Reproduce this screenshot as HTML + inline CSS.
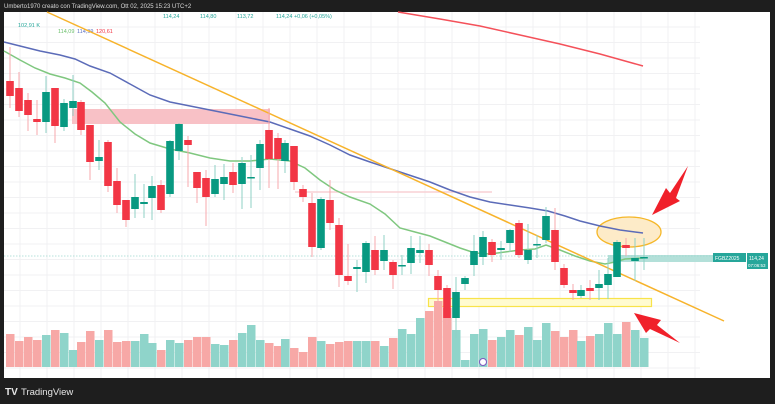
<!DOCTYPE html>
<html><head><meta charset="utf-8"><style>
html,body{margin:0;padding:0;background:#1e1e1e;width:775px;height:404px;overflow:hidden;font-family:"Liberation Sans",sans-serif}
svg{position:absolute;left:0;top:0}
</style></head><body>
<svg id="s" width="775" height="404" viewBox="0 0 775 404" xmlns="http://www.w3.org/2000/svg">
<rect x="0" y="0" width="775" height="404" fill="#1e1e1e"/>
<rect x="4" y="12" width="766" height="366" fill="#ffffff"/>
<g id="grid" stroke="#f1f1f3" stroke-width="1"></g>
<text x="4" y="8" font-size="6" fill="#d8d8d8">Umberto1970 creato con TradingView.com, Ott 02, 2025 15:23 UTC+2</text>
<text x="163" y="18" font-size="5.5" fill="#26a69a">114,24</text>
<text x="200" y="18" font-size="5.5" fill="#26a69a">114,80</text>
<text x="237" y="18" font-size="5.5" fill="#26a69a">113,72</text>
<text x="276" y="18" font-size="5.5" fill="#26a69a">114,24 +0,06 (+0,05%)</text>
<text x="18" y="27" font-size="5.5" fill="#26a69a">102,91 K</text>
<text x="58" y="33" font-size="5.5" fill="#6abf6a">114,09</text>
<text x="77" y="33" font-size="5.5" fill="#5b6fc2">114,99</text>
<text x="96" y="33" font-size="5.5" fill="#f23645">120,61</text>
<rect x="72" y="109" width="198" height="15" fill="#f8c1c6"/>
<line x1="295" y1="192" x2="492" y2="192" stroke="#f8c8cc" stroke-width="1.2"/>
<rect x="428.5" y="298.5" width="223" height="8" fill="#fffbd0" stroke="#f8e34a" stroke-width="1.2"/>
<ellipse cx="629" cy="232" rx="32" ry="15" fill="#fdebc8" stroke="#f5b728" stroke-width="1.3"/>
<rect x="608" y="255" width="105" height="7" fill="#b3e0d9"/>
<line x1="4" y1="256" x2="713" y2="256" stroke="#9fd8cf" stroke-width="0.8" stroke-dasharray="1.5,1.5"/>
<g id="vol"></g>
<polyline fill="none" stroke="#f4515a" stroke-width="1.5" points="398,12 440,19 480,26 520,35 560,44 600,54 643,66"/>
<polyline fill="none" stroke="#5b6bb8" stroke-width="1.5" points="4,42 20,46 40,51 60,55 75,59 90,66 110,73 130,84 150,95 170,102 190,106 210,110 230,114 250,118 270,122 290,129 310,136 330,145 350,155 370,162 400,172 430,182 450,190 470,197 490,202 510,205 530,208 548,211 565,216 580,221 600,226 620,230 643,233"/>
<polyline fill="none" stroke="#7fc77f" stroke-width="1.5" points="4,51 20,60 35,68 50,74 65,78 80,83 92,92 105,103 120,122 135,134 150,143 170,149 190,153 210,158 230,161 250,161 270,159 290,161 305,168 320,180 335,190 350,197 370,204 385,214 400,228 415,232 430,236 445,242 460,248 475,253 490,254 505,252 520,250 535,249 546,245 560,250 575,256 590,261 605,264 615,262 625,259 643,258"/>
<line x1="47" y1="12" x2="724" y2="321" stroke="#f7b32b" stroke-width="1.5"/>
<g id="c"></g>
<polygon points="652,215 666,188 670,193 688,166 676,198 680,201" fill="#f0202a"/>
<polygon points="634,313 661,320 657,325 680,343 650,329 646,333" fill="#f0202a"/>
<rect x="713" y="253" width="33" height="9" fill="#26a69a"/>
<text x="715" y="260" font-size="5" fill="#fff">FGBZ2025</text>
<rect x="747" y="253" width="21" height="16" fill="#26a69a"/>
<text x="749" y="260" font-size="5" fill="#fff">114,24</text>
<text x="748" y="267" font-size="4.5" fill="#fff">07:06:53</text>
<circle cx="483" cy="362" r="3.5" fill="#fff" stroke="#7e57c2" stroke-width="1"/>
<text x="5" y="395" font-size="10" font-weight="bold" fill="#e6e6e6">TV</text>
<text x="21" y="395" font-size="9.5" fill="#e6e6e6">TradingView</text>
</svg>
<script>
var ns="http://www.w3.org/2000/svg";
function el(p,t,a){var e=document.createElementNS(ns,t);for(var k in a)e.setAttribute(k,a[k]);p.appendChild(e);return e;}
var g=document.getElementById('grid');
for(var y=27;y<378;y+=15.5)el(g,'line',{x1:4,y1:y,x2:700,y2:y});
for(var x=20;x<700;x+=27)el(g,'line',{x1:x,y1:12,x2:x,y2:378});
// x,color(1=green),bodyTop,bodyBot,wickTop,wickBot
var D=[[10,0,81,96,47,108],[19,0,88,111,72,117],[28,0,100,115,93,131],[37,0,119,122,100,135],[46,1,92,122,76,133],[55,0,88,126,88,143],[64,1,103,127,99,131],[73,1,101,108,75,116],[81,0,102,130,100,135],[90,0,125,162,125,180],[99,1,157,161,140,170],[108,0,142,186,140,192],[117,0,181,205,168,213],[126,0,200,220,200,227],[135,1,197,209,174,218],[144,1,202,204,184,218],[152,1,186,198,176,220],[161,0,185,210,180,213],[170,1,141,194,140,197],[179,1,124,151,123,160],[188,0,140,145,136,187],[197,0,172,188,172,203],[206,0,178,197,170,226],[215,1,179,194,165,197],[224,1,177,184,164,200],[233,0,172,185,163,193],[242,1,163,184,157,209],[251,1,177,178,155,208],[260,1,144,168,140,190],[269,0,130,159,108,188],[278,0,138,159,133,189],[285,1,143,161,140,173],[294,0,146,182,146,190],[303,0,189,197,185,202],[312,0,203,247,193,257],[321,1,199,248,197,250],[330,0,200,223,180,230],[339,0,225,275,218,287],[348,0,276,281,244,285],[357,1,267,269,260,292],[366,1,243,272,241,283],[375,0,250,270,236,275],[384,1,250,261,235,270],[393,0,262,275,260,289],[402,1,265,266,255,275],[411,1,248,263,236,274],[420,1,250,253,236,263],[429,0,250,265,244,276],[438,0,276,290,270,301],[447,0,288,318,285,325],[456,1,292,318,277,338],[465,1,278,284,276,290],[474,1,251,265,235,276],[483,1,237,257,231,265],[492,0,242,255,239,262],[501,1,248,250,241,260],[510,1,230,243,229,252],[519,0,223,255,220,258],[528,1,250,260,224,264],[537,1,244,245,235,258],[546,1,216,240,207,243],[555,0,230,262,208,270],[564,0,268,285,264,288],[573,0,290,293,284,300],[581,1,290,296,285,298],[590,0,288,291,280,300],[599,1,284,288,270,300],[608,1,274,285,258,299],[617,1,242,277,240,277],[626,0,245,248,238,256],[635,1,258,261,238,281],[644,1,257,258,238,270]];
var V=[33,26,30,27,32,37,34,17,25,36,27,37,25,26,26,33,24,17,27,24,27,30,30,23,22,27,34,42,27,24,21,28,19,15,30,26,23,25,26,26,26,26,21,29,38,33,49,56,66,59,37,7,33,38,27,30,37,32,40,27,44,36,30,37,26,31,33,44,33,45,37,29];
var c=document.getElementById('c'),v=document.getElementById('vol');
D.forEach(function(d,i){var col=d[1]?'#089981':'#f23645';
var vh=V[i%V.length];
el(v,'rect',{x:d[0]-4,y:367-vh,width:8.5,height:vh,fill:d[1]?'#8fd4ca':'#f7a8a6'});
el(c,'line',{x1:d[0],y1:d[4],x2:d[0],y2:d[5],stroke:d[1]?'#8fd0c5':'#f7a8ae','stroke-width':1});
el(c,'rect',{x:d[0]-3.8,y:d[2],width:7.6,height:Math.max(1.5,d[3]-d[2]),fill:col});});
</script>
</body></html>
